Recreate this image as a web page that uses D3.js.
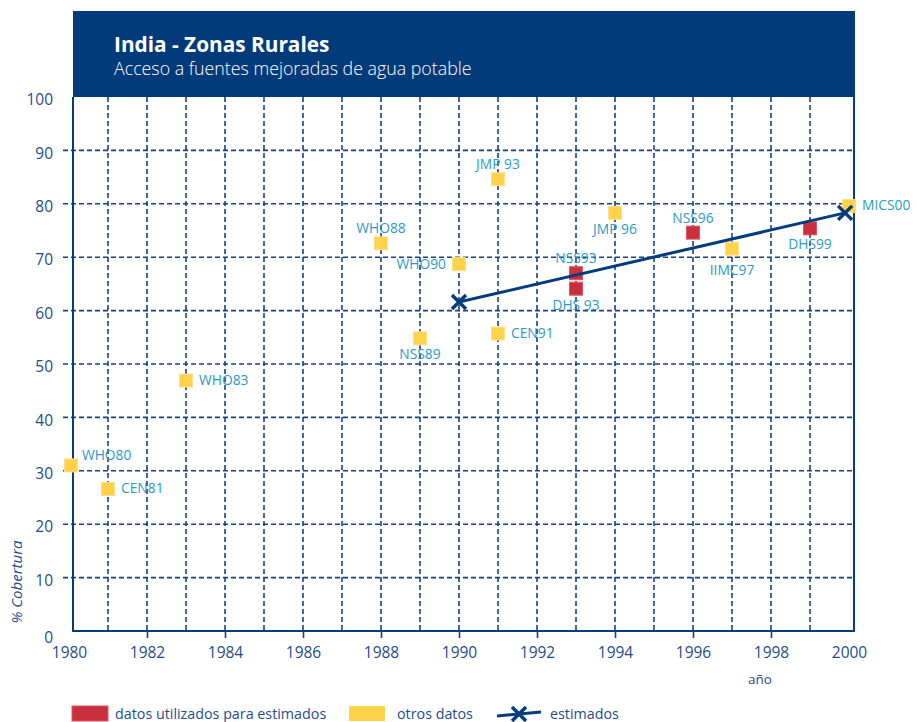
<!DOCTYPE html>
<html>
<head>
<meta charset="utf-8">
<script src="https://cdn.jsdelivr.net/npm/d3@7"></script>
<style>
  body { margin: 0; background: #fff; }
  text { font-family: "Open Sans", "Noto Sans", sans-serif; }
</style>
</head>
<body>
<svg id="chart" width="917" height="722"></svg>
<script>
// --- data ---
const title = "India - Zonas Rurales";
const subtitle = "Acceso a fuentes mejoradas de agua potable";

// survey points: label, year, % coverage, kind ("used" = red, "other" = yellow)
const pointLabels = ["WHO80", "CEN81", "WHO83", "WHO88", "NSS89", "WHO90", "JMP 93", "CEN91",
  "JMP 96", "NSS93", "DHS 93", "NSS96", "IIMC97", "DHS99", "MICS00"];
const pointYears = [1980.05, 1981, 1983, 1988, 1989, 1990, 1991, 1991,
  1994, 1993, 1993, 1996, 1997, 1999, 2000];
const pointValues = [31, 26.6, 46.9, 72.6, 54.8, 68.7, 84.6, 55.7,
  78.3, 67, 64.1, 74.6, 71.6, 75.4, 79.6];
const pointKinds = ["other", "other", "other", "other", "other", "other", "other", "other",
  "other", "used", "used", "used", "other", "used", "other"];
// where each label sits relative to its marker
const labelSide = ["rightup", "right", "right", "above", "below", "left", "above", "right",
  "below", "above", "below", "above", "below2", "below", "right"];

// estimated trend line
const estYears = [1990, 1999.9];
const estValues = [61.6, 78.3];

const yTicks = [0, 10, 20, 30, 40, 50, 60, 70, 80, 90, 100];
const xTickLabels = [1980, 1982, 1984, 1986, 1988, 1990, 1992, 1994, 1996, 1998, 2000];

const legendItems = ["datos utilizados para estimados", "otros datos", "estimados"];

// --- styling ---
const navy = "#053d7c";
const gridColor = "#17427f";
const tickText = "#1f4d8c";
const labelColor = "#2b9bc3";
const yellow = "#ffd24a";
const red = "#c92f3c";

const svg = d3.select("#chart");

// frame of the plot
const frameL = 73, frameR = 854, frameT = 97, frameB = 631;

var x = d3.scaleLinear().domain([1980, 2000]).range([69, 849]);
var y = d3.scaleLinear().domain([0, 100]).range([631, 97]);

// banner
svg.append("rect")
  .attr("x", frameL).attr("y", 11)
  .attr("width", frameR - frameL).attr("height", frameT - 11)
  .attr("fill", "#033b7a");

svg.append("text")
  .attr("x", 114).attr("y", 52)
  .attr("fill", "#fff")
  .attr("font-size", 20.8)
  .attr("font-weight", 700)
  .text(title);

svg.append("text")
  .attr("x", 114).attr("y", 75)
  .attr("fill", "#fff")
  .attr("font-size", 17.8)
  .attr("font-weight", 300)
  .text(subtitle);

// horizontal grid (with the little tick left of the axis)
svg.append("g")
  .selectAll("line")
  .data(yTicks.filter(d => d > 0 && d < 100))
  .join("line")
  .attr("x1", 63).attr("x2", frameR)
  .attr("y1", d => y(d)).attr("y2", d => y(d))
  .attr("stroke", gridColor)
  .attr("stroke-width", 1.6)
  .attr("stroke-dasharray", "5,3");

// vertical grid, one per year
const gridYears = d3.range(1981, 2000);
svg.append("g")
  .selectAll("line")
  .data(gridYears)
  .join("line")
  .attr("x1", d => x(d)).attr("x2", d => x(d))
  .attr("y1", frameT).attr("y2", frameB)
  .attr("stroke", gridColor)
  .attr("stroke-width", 1.6)
  .attr("stroke-dasharray", "5,3");

// y labels
const yAxis = svg.append("g")
  .attr("transform", `translate(${frameL},0)`)
  .call(d3.axisLeft(y).tickValues(yTicks).tickSize(0).tickPadding(20));
yAxis.select(".domain").remove();
yAxis.selectAll("text")
  .attr("font-family", "'Open Sans', sans-serif")
  .attr("font-size", 15.5)
  .attr("fill", tickText)
  .attr("dy", d => d === 0 ? "0.75em" : "0.5em");

// x axis labels + ticks under the axis
const xAxis = svg.append("g")
  .attr("transform", `translate(0,${frameB})`)
  .call(d3.axisBottom(x).tickValues(xTickLabels).tickSize(7).tickPadding(9).tickFormat(d3.format("d")));
xAxis.select(".domain").remove();
xAxis.selectAll("line")
  .attr("stroke", gridColor)
  .attr("stroke-width", 1.6)
  .attr("opacity", d => (d === 1980 || d === 2000) ? 0 : 1);
xAxis.selectAll("text")
  .attr("font-family", "'Open Sans', sans-serif")
  .attr("font-size", 15.5)
  .attr("fill", tickText);

// frame lines
svg.append("path")
  .attr("d", `M${frameL},${frameT}V${frameB}H${frameR}V11`)
  .attr("fill", "none")
  .attr("stroke", navy)
  .attr("stroke-width", 2);

// axis titles
svg.append("text")
  .attr("transform", "translate(22,582) rotate(-90)")
  .attr("text-anchor", "middle")
  .attr("font-size", 15)
  .attr("font-style", "italic")
  .attr("fill", tickText)
  .text("% Cobertura");

svg.append("text")
  .attr("x", 760).attr("y", 684)
  .attr("text-anchor", "middle")
  .attr("font-size", 13.5)
  .attr("fill", tickText)
  .text("año");

// survey points
const points = pointLabels.map((d, i) => ({
  label: d, year: pointYears[i], value: pointValues[i], kind: pointKinds[i], side: labelSide[i]
}));

const sq = 13;
svg.append("g")
  .selectAll("rect")
  .data(points)
  .join("rect")
  .attr("x", d => x(d.year) - sq / 2)
  .attr("y", d => y(d.value) - sq / 2)
  .attr("width", sq).attr("height", sq)
  .attr("fill", d => d.kind === "used" ? red : yellow)
  .attr("stroke", d => d.kind === "used" ? "#dc5663" : "#ffe08a")
  .attr("stroke-width", 1);

// estimated line with x markers
const est = estYears.map((d, i) => ({ year: d, value: estValues[i] }));
svg.append("path")
  .datum(est)
  .attr("d", d3.line().x(d => x(d.year)).y(d => y(d.value)))
  .attr("fill", "none")
  .attr("stroke", navy)
  .attr("stroke-width", 3);

function cross(g, cx, cy, r) {
  g.append("path")
    .attr("d", `M${cx - r},${cy - r}L${cx + r},${cy + r}M${cx - r},${cy + r}L${cx + r},${cy - r}`)
    .attr("stroke", navy)
    .attr("stroke-width", 3.5)
    .attr("fill", "none");
}
const crosses = svg.append("g");
est.forEach(d => cross(crosses, x(d.year), y(d.value), 7));

// point labels
svg.append("g")
  .selectAll("text")
  .data(points)
  .join("text")
  .attr("font-size", 13.8)
  .attr("fill", labelColor)
  .attr("x", d => {
    const cx = x(d.year);
    if (d.side === "right") return cx + 13;
    if (d.side === "rightup") return cx + 11;
    if (d.side === "left") return cx - 13;
    return cx;
  })
  .attr("y", d => {
    const cy = y(d.value);
    if (d.side === "above") return cy - 10;
    if (d.side === "below") return cy + 21;
    if (d.side === "below2") return cy + 26;
    if (d.side === "rightup") return cy - 5;
    return cy + 4.5;
  })
  .attr("text-anchor", d => {
    if (d.side === "right" || d.side === "rightup") return "start";
    if (d.side === "left") return "end";
    return "middle";
  })
  .text(d => d.label);

// legend
const leg = svg.append("g");
leg.append("rect").attr("x", 72).attr("y", 706).attr("width", 36).attr("height", 15)
  .attr("fill", red).attr("stroke", "#dc5663");
leg.append("text").attr("x", 115).attr("y", 719).attr("font-size", 14.3).attr("fill", tickText)
  .text(legendItems[0]);
leg.append("rect").attr("x", 349).attr("y", 706).attr("width", 36).attr("height", 15)
  .attr("fill", yellow);
leg.append("text").attr("x", 397).attr("y", 719).attr("font-size", 14.3).attr("fill", tickText)
  .text(legendItems[1]);
leg.append("line").attr("x1", 497).attr("x2", 541).attr("y1", 716).attr("y2", 712)
  .attr("stroke", navy).attr("stroke-width", 3);
cross(leg, 519, 714, 7);
leg.append("text").attr("x", 550).attr("y", 719).attr("font-size", 14.3).attr("fill", tickText)
  .text(legendItems[2]);
</script>
</body>
</html>
